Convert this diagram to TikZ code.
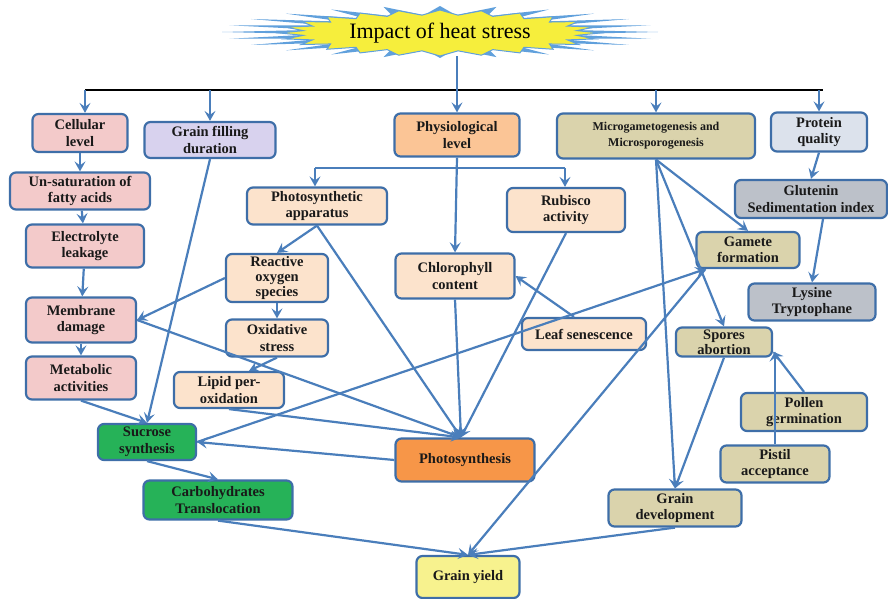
\documentclass[tikz,border=0pt]{standalone}
\usepackage{fontspec}
\setmainfont{Liberation Serif}
\usetikzlibrary{arrows.meta}
\definecolor{linkblue}{RGB}{74,126,187}
\definecolor{edgeblue}{RGB}{62,110,168}
\definecolor{starblue}{RGB}{96,160,220}
\definecolor{staryellow}{RGB}{246,238,60}
\definecolor{cellpink}{RGB}{243,202,202}
\definecolor{lavender}{RGB}{216,210,238}
\definecolor{peach}{RGB}{252,227,204}
\definecolor{physorange}{RGB}{251,197,150}
\definecolor{psorange}{RGB}{247,150,72}
\definecolor{leafgreen}{RGB}{38,178,88}
\definecolor{yieldyellow}{RGB}{247,242,142}
\definecolor{khaki}{RGB}{218,211,172}
\definecolor{palegray}{RGB}{220,226,236}
\definecolor{midgray}{RGB}{188,193,201}
\begin{document}
\begin{tikzpicture}[x=1pt, y=-1pt,
  box/.style={draw=edgeblue, line width=2.2pt, rounded corners=6pt, align=center,
    inner sep=1pt, text=black!90, font=\bfseries\fontsize{14.5}{16.5}\selectfont},
  link/.style={draw=linkblue, line width=2.2pt},
  arr/.style={link, -{Stealth[length=10pt,width=11pt,inset=4pt]}}]
\useasboundingbox (0,0) rectangle (888,599);

% title burst
\fill[starblue] plot[samples at={0,...,47}, variable=\k]
  ({440+(218-95*mod(\k,2))*cos(\k*7.5)}, {32+(26-9*mod(\k,2))*sin(\k*7.5)}) -- cycle;
\filldraw[fill=staryellow, draw=starblue, line width=1pt] plot[samples at={0,...,47}, variable=\k]
  ({440+(160-22*mod(\k,2))*cos(\k*7.5)}, {33+(23-5*mod(\k,2))*sin(\k*7.5)}) -- cycle;
\node[minimum width=420pt, minimum height=46pt, font=\fontsize{22}{24}\selectfont] (title) at (440,33) {Impact of heat stress};

% boxes
\node[box, fill=cellpink, minimum width=95pt, minimum height=38pt] (cellular) at (80,133) {Cellular\\level};
\node[box, fill=lavender, minimum width=131pt, minimum height=36pt] (grainfill) at (210,140) {Grain filling\\duration};
\node[box, fill=cellpink, minimum width=140pt, minimum height=37pt] (unsat) at (80,191) {Un-saturation of\\fatty acids};
\node[box, fill=cellpink, minimum width=118pt, minimum height=43pt] (electro) at (85,246) {Electrolyte\\leakage};
\node[box, fill=cellpink, minimum width=110pt, minimum height=45pt] (membrane) at (81,320) {Membrane\\damage};
\node[box, fill=cellpink, minimum width=110pt, minimum height=43pt] (metabolic) at (81,378) {Metabolic\\activities};
\node[box, fill=physorange, minimum width=125pt, minimum height=43pt] (physio) at (457,135) {Physiological\\level};
\node[box, fill=peach, minimum width=140pt, minimum height=37pt] (photoapp) at (317,206) {Photosynthetic\\apparatus};
\node[box, fill=peach, minimum width=118pt, minimum height=44pt] (rubisco) at (566,210) {Rubisco\\activity};
\node[box, fill=peach, minimum width=102pt, minimum height=48pt, font=\bfseries\fontsize{14.5}{15}\selectfont] (ros) at (277,278) {Reactive\\oxygen\\species};
\node[box, fill=peach, minimum width=119pt, minimum height=45pt] (chloro) at (455,276) {Chlorophyll\\content};
\node[box, fill=peach, minimum width=102pt, minimum height=37pt] (oxid) at (277,338) {Oxidative\\stress};
\node[box, fill=peach, minimum width=110pt, minimum height=36pt] (lipid) at (229,390) {Lipid per-\\oxidation};
\node[box, fill=peach, minimum width=124pt, minimum height=32pt] (leaf) at (584,334) {Leaf senescence};
\node[box, fill=leafgreen, minimum width=98pt, minimum height=36pt] (sucrose) at (147,442) {Sucrose\\synthesis};
\node[box, fill=psorange, minimum width=139pt, minimum height=43pt] (photosyn) at (465,460) {Photosynthesis};
\node[box, fill=leafgreen, minimum width=149pt, minimum height=39pt] (carbo) at (218,500) {Carbohydrates\\Translocation};
\node[box, fill=yieldyellow, minimum width=103pt, minimum height=42pt] (yield) at (468,577) {Grain yield};
\node[box, fill=khaki, minimum width=198pt, minimum height=45pt, font=\bfseries\fontsize{12}{16}\selectfont] (micro) at (656,136) {Microgametogenesis and\\Microsporogenesis};
\node[box, fill=palegray, minimum width=96pt, minimum height=39pt] (protein) at (819,132) {Protein\\quality};
\node[box, fill=midgray, minimum width=152pt, minimum height=38pt] (glutenin) at (811,199) {Glutenin\\Sedimentation index};
\node[box, fill=khaki, minimum width=103pt, minimum height=36pt] (gamete) at (748,250) {Gamete\\formation};
\node[box, fill=midgray, minimum width=127pt, minimum height=37pt] (lysine) at (812,302) {Lysine\\Tryptophane};
\node[box, fill=khaki, minimum width=96pt, minimum height=29pt, font=\bfseries\fontsize{14.5}{15}\selectfont] (spores) at (724,342) {Spores\\abortion};
\node[box, fill=khaki, minimum width=126pt, minimum height=38pt] (pollen) at (804,412) {Pollen\\germination};
\node[box, fill=khaki, minimum width=109pt, minimum height=37pt] (pistil) at (775,464) {Pistil\\acceptance};
\node[box, fill=khaki, minimum width=133pt, minimum height=37pt] (graindev) at (675,508) {Grain\\development};

% bus lines
\coordinate (busL) at (85,90);
\coordinate (busR) at (823,90);
\coordinate (pL) at (315,168);
\coordinate (pR) at (565,168);
\coordinate (psin) at ([xshift=-4pt]photosyn.north);
\coordinate (gsw) at ([xshift=10pt]gamete.south west);
\coordinate (spt) at ([yshift=6pt]spores.south east);

\draw[black, line width=1.6pt] (busL) -- (busR);
\draw[arr] (physio.north |- title.south) -- (physio.north);
\draw[arr] (busL) -- (busL |- cellular.north);
\draw[arr] (grainfill.north |- busL) -- (grainfill.north);
\draw[arr] (micro.north |- busL) -- (micro.north);
\draw[arr] (protein.north |- busL) -- (protein.north);

% cellular chain
\draw[arr] (cellular) -- (unsat);
\draw[arr] (unsat) -- (electro);
\draw[arr] (electro) -- (membrane);
\draw[arr] (membrane) -- (metabolic);
\draw[arr] (metabolic.south) -- (sucrose.north);
\draw[arr] (grainfill.south) -- (sucrose.north);

% physiological level
\draw[link] (pL) -- (pR);
\draw[arr] (pL) -- (pL |- photoapp.north);
\draw[arr] (pR) -- (pR |- rubisco.north);
\draw[arr] (physio.south) -- (chloro.north);
\draw[arr] (photoapp.south) -- (ros.north);
\draw[arr] (photoapp.south) -- (psin);
\draw[arr] (ros.west) -- (membrane.east);
\draw[arr] (membrane.east) -- (psin);
\draw[arr] (ros) -- (oxid);
\draw[arr] (oxid.south) -- ([xshift=20pt]lipid.north);
\draw[arr] (lipid.south) -- (psin);
\draw[arr] (chloro.south) -- (psin);
\draw[arr] (rubisco.south) -- (psin);
\draw[arr] ([xshift=-10pt]leaf.north) -- (chloro.east);
\draw[arr] (photosyn.west) -- (sucrose.east);
\draw[arr] (sucrose.east) -- (gsw);
\draw[arr] (sucrose.south) -- (carbo.north);
\draw[arr] (carbo.south) -- (yield.north);

% reproductive side
\draw[arr] (micro.south) -- (gamete.north);
\draw[arr] (micro.south) -- (graindev.north);
\draw[arr] (micro.south) -- (spores.north);
\draw[arr] (spores.south) -- (graindev.north);
\draw[arr] (pollen.north) -- (spt);
\draw[arr] (pistil.north) -- (pistil.north |- spt);
\draw[arr] (gsw) -- (yield.north);
\draw[arr] (graindev.south) -- (yield.north);

% protein quality
\draw[arr] (protein.south) -- (glutenin.north);
\draw[arr] ([xshift=12pt]glutenin.south) -- (lysine.north);
\end{tikzpicture}
\end{document}
